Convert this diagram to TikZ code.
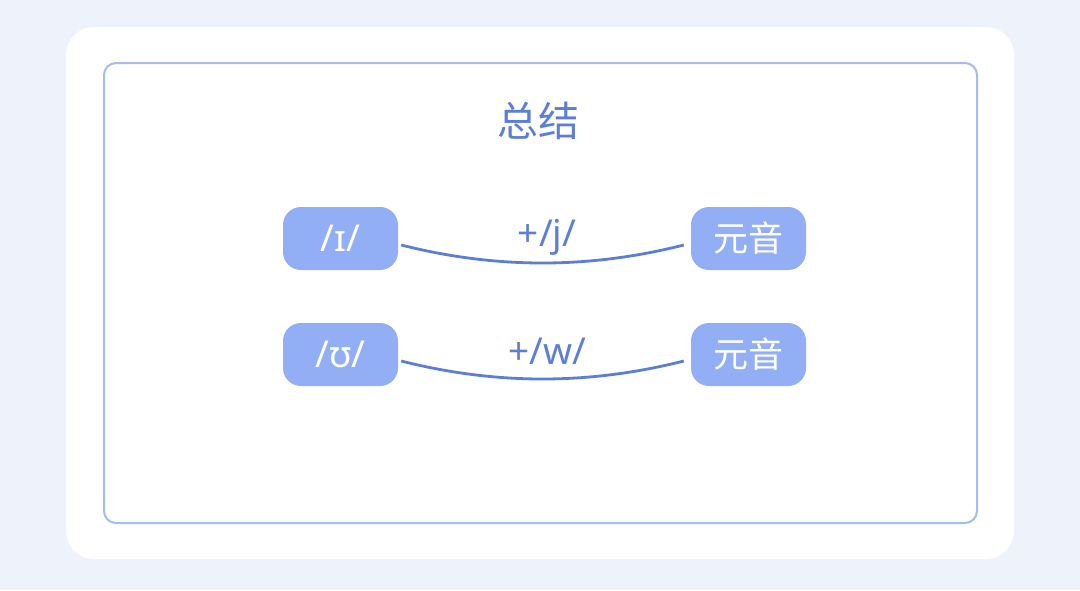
\documentclass[tikz,border=0pt]{standalone}
\usepackage{fontspec}
\setmainfont{Noto Sans}
\newfontfamily\cjk{Noto Sans CJK SC}
\usetikzlibrary{calc}
\definecolor{bgc}{HTML}{EEF2FA}
\definecolor{framec}{HTML}{A5BCEE}
\definecolor{titlec}{HTML}{5B7FD9}
\definecolor{boxc}{HTML}{92AEF5}
\definecolor{linec}{HTML}{5B7FD9}
\tikzset{
  pill/.style={fill=boxc, rounded corners=18pt, minimum width=115pt, minimum height=63pt, inner sep=0pt, text=white, font=\fontsize{37}{40}\selectfont},
  link/.style={draw=linec, line width=2.8pt},
  lbl/.style={text=titlec, font=\fontsize{37}{40}\selectfont, inner sep=0pt}
}
\begin{document}
\begin{tikzpicture}[x=1pt,y=-1pt]
\fill[bgc] (0,0) rectangle (1080,590);
\useasboundingbox (0,0) rectangle (1080,590);
\fill[white, rounded corners=28pt] (66,27) rectangle (1014,559);
\draw[framec, line width=2pt, rounded corners=12pt] (104,63) rectangle (977,523);
\node[text=titlec, font=\cjk\fontsize{41}{44}\selectfont, inner sep=0pt] (title) at (538,121) {总结};
\node[pill] (i) at (340.5,238.5) {/ɪ/};
\node[pill, font=\cjk\fontsize{35}{40}\selectfont] (v1) at (748.5,238.5) {元音};
\node[pill] (u) at (340.5,354.5) {/ʊ/};
\node[pill, font=\cjk\fontsize{35}{40}\selectfont] (v2) at (748.5,354.5) {元音};
\coordinate (a1) at ($(i.east)+(3,6.5)$);
\coordinate (b1) at ($(v1.west)+(-7,6.5)$);
\coordinate (a2) at ($(u.east)+(3,6.5)$);
\coordinate (b2) at ($(v2.west)+(-7,6.5)$);
\draw[link] (a1) .. controls ($(a1)+(95,24)$) and ($(b1)+(-95,24)$) .. (b1);
\draw[link] (a2) .. controls ($(a2)+(95,24)$) and ($(b2)+(-95,24)$) .. (b2);
\node[lbl] (j) at (547,237) {+/j/};
\node[lbl] (w) at (547,351) {+/w/};
\end{tikzpicture}
\end{document}
